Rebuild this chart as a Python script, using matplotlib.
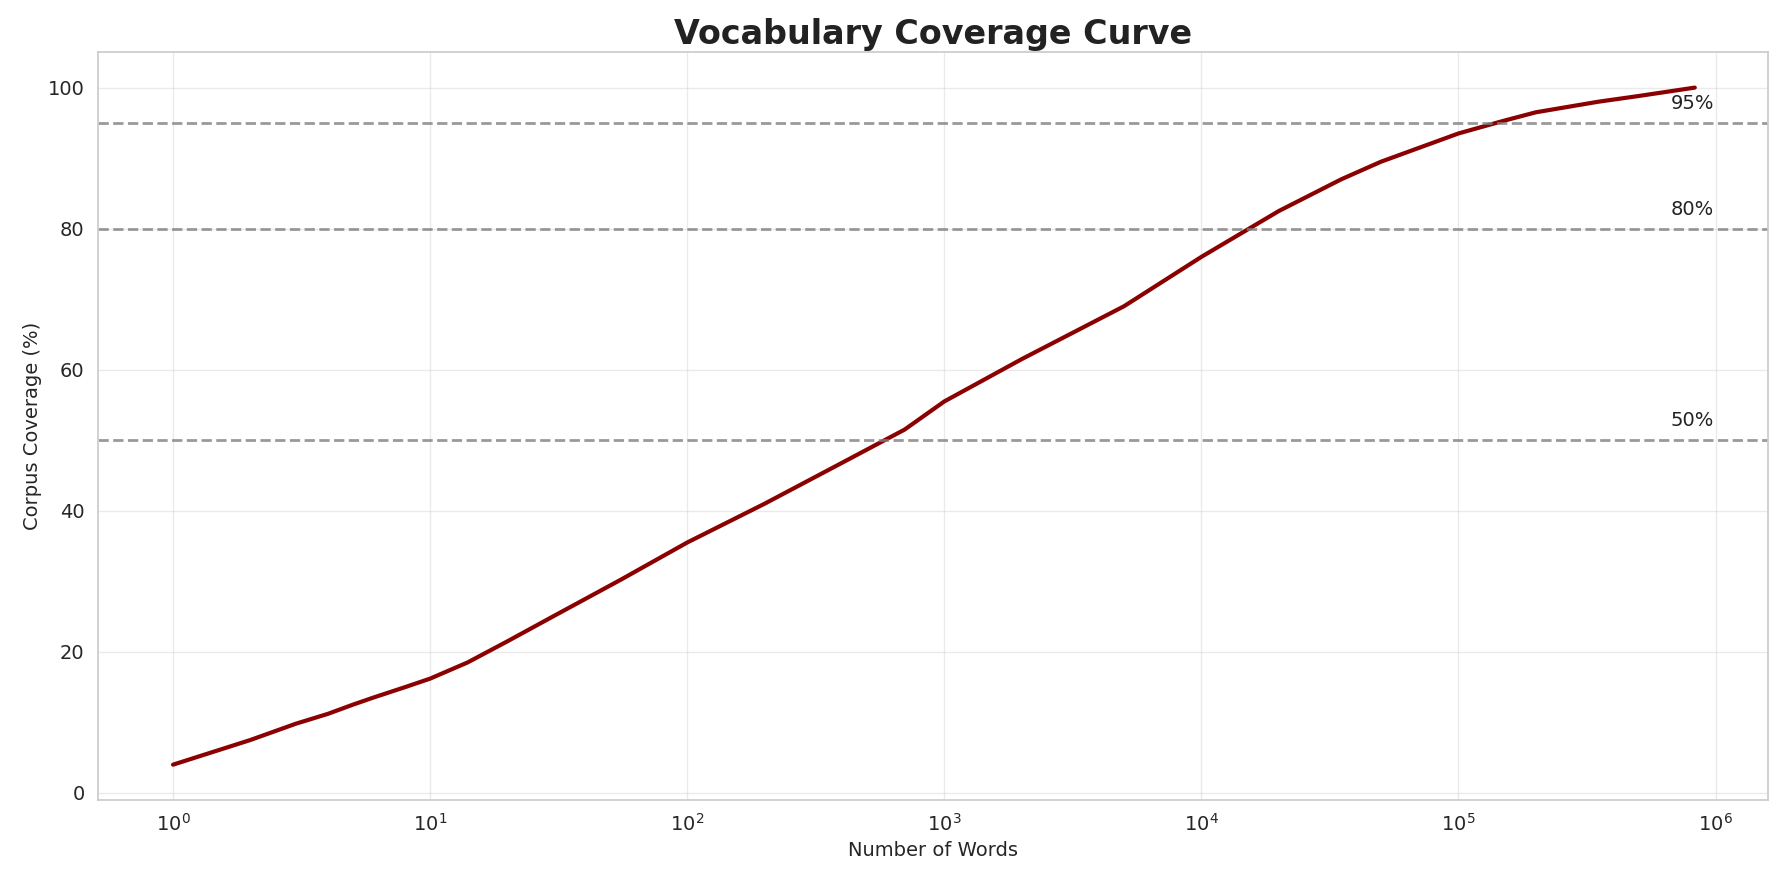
import matplotlib
matplotlib.use("Agg")
import matplotlib.pyplot as plt
import seaborn as sns

sns.set_theme(style="whitegrid")
plt.rcParams['font.family'] = ['DejaVu Sans']

words = [1, 2, 3, 4, 5, 6, 8, 10, 14, 20, 30, 55, 100, 200, 400, 700, 1000, 2000, 5000,
         10000, 20000, 35000, 50000, 100000, 150000, 200000, 350000, 500000, 830000]
coverage = [4.0, 7.5, 9.8, 11.2, 12.5, 13.5, 15.0, 16.2, 18.5, 21.5, 25.0, 30.2, 35.5,
            41.0, 46.8, 51.5, 55.5, 61.5, 69.0, 76.0, 82.5, 87.0, 89.5, 93.5, 95.3,
            96.5, 98.0, 98.8, 100.0]
thresholds = [50, 80, 95]
threshold_labels = ["50%", "80%", "95%"]

fig, ax = plt.subplots(figsize=(17.84, 8.83), dpi=100)
ax.plot(words, coverage, color="#8b0000", linewidth=3.0)
for t, lab in zip(thresholds, threshold_labels):
    ax.axhline(t, color="gray", linestyle="--", linewidth=2.0, alpha=0.8)
    ax.text(6.7e5, t + 2, lab, fontsize=14, color="#222222")
ax.set_xscale("log")
ax.set_xlim(0.51, 1.6e6)
ax.set_ylim(-1, 105)
ax.set_title("Vocabulary Coverage Curve", fontsize=24, fontweight="bold", color="#222222")
ax.set_xlabel("Number of Words", fontsize=14)
ax.set_ylabel("Corpus Coverage (%)", fontsize=14)
ax.tick_params(labelsize=14)
ax.grid(True, alpha=0.4)
for s in ax.spines.values():
    s.set_color("#cccccc")
fig.subplots_adjust(left=86/1568, right=1554/1568, top=1-46/776, bottom=1-703/776)
fig.savefig("out.png", dpi=100)
